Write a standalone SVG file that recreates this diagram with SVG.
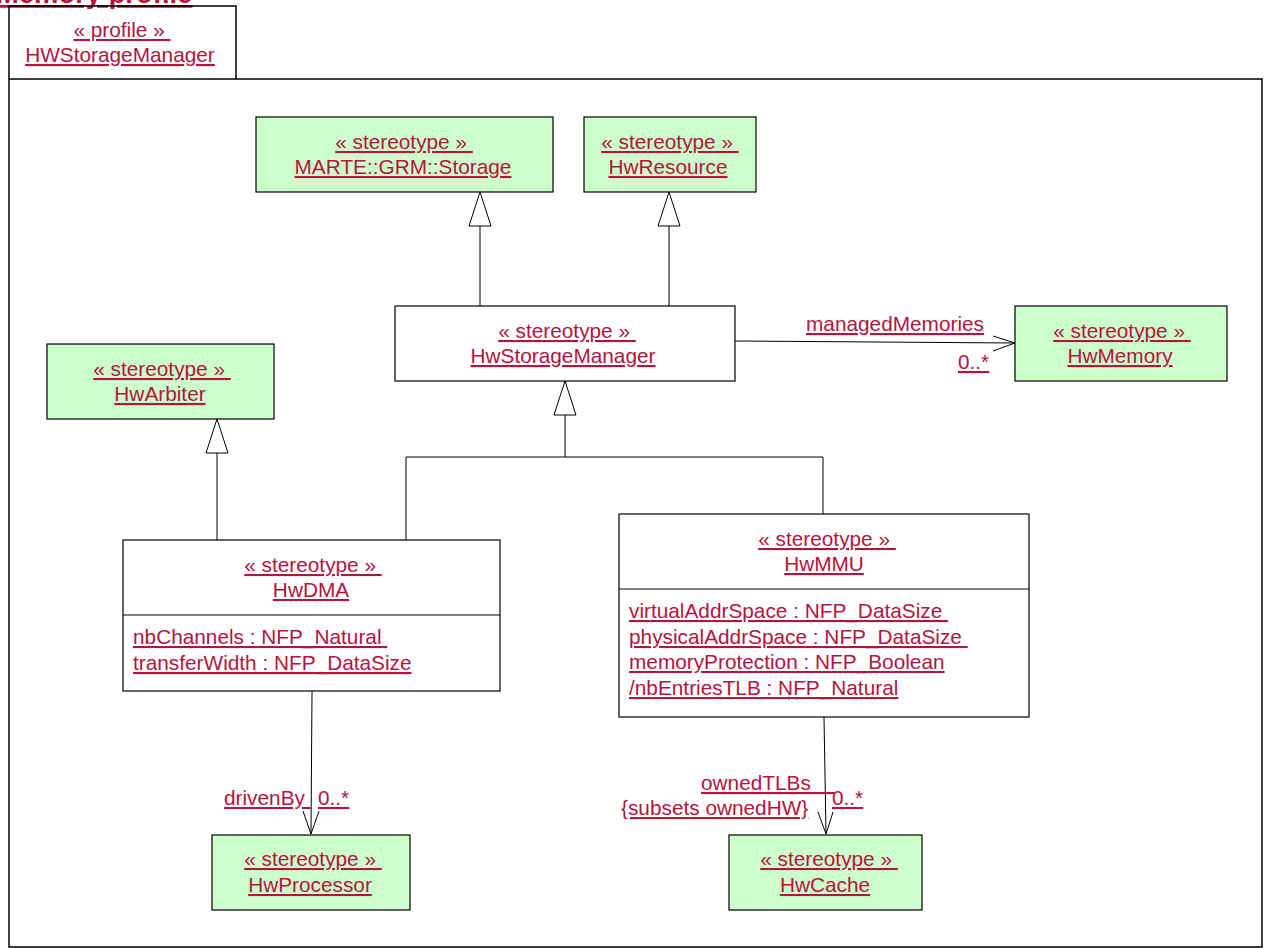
<svg xmlns="http://www.w3.org/2000/svg" width="1265" height="948" viewBox="0 0 1265 948">
<style>
text{font-family:"Liberation Sans",Arial,sans-serif;font-size:20.8px;fill:#B4143C;text-decoration:underline;}
.c{text-anchor:middle;}
.title{font-weight:bold;font-size:27.4px;}
.box{fill:#fff;stroke:#000;stroke-width:1.2;}
.st{fill:#CCFFCC;stroke:#000;stroke-width:1.2;}
.ln{fill:none;stroke:#000;stroke-width:1;}
.tri{fill:#fff;stroke:#000;stroke-width:1;}
.frame{fill:none;stroke:#000;stroke-width:1.5;}
</style>
<rect width="1265" height="948" fill="#fff"/>
<text class="title" x="-4" y="3">Memory profile</text>
<g id="frame">
<path class="frame" d="M9,79 V947 H1262 V79 Z"/>
<path class="frame" d="M9,79 V6 H236 V79"/>
<text class="c" x="122" y="37">« profile »&#160;</text>
<text class="c" x="120" y="62">HWStorageManager</text>
</g>
<g id="connectors">
<path class="ln" d="M480,306 V226"/>
<path class="tri" d="M480,192 L469,226 L491,226 Z"/>
<path class="ln" d="M669,306 V226"/>
<path class="tri" d="M669,192 L658,226 L680,226 Z"/>
<path class="ln" d="M217,540 V453"/>
<path class="tri" d="M217,419 L206,453 L228,453 Z"/>
<path class="ln" d="M406,540 V457 H823 V514 M565,457 V415"/>
<path class="tri" d="M565,381 L554,415 L576,415 Z"/>
<path class="ln" d="M735,341 L1015,343 M993,336 L1015,343 L993,351"/>
<path class="ln" d="M312,691 L311,834 M303,811 L311,834 L319,811"/>
<path class="ln" d="M824,717 L826,834 M818,812 L826,834 L833,812"/>
<text x="806" y="331">managedMemories</text>
<text x="958" y="369">0..*</text>
<text x="224" y="805">drivenBy&#160;</text>
<text x="318" y="805">0..*</text>
<text x="701" y="790">ownedTLBs&#160;&#160;&#160;&#160;</text>
<text x="832" y="805">0..*</text>
<text x="621" y="815">{subsets ownedHW}</text>
</g>
<g id="storage">
<rect class="st" x="256" y="117" width="297" height="75"/>
<text class="c" x="404" y="149">« stereotype »&#160;</text>
<text class="c" x="403" y="174">MARTE::GRM::Storage</text>
</g>
<g id="hwresource">
<rect class="st" x="584" y="117" width="172" height="75"/>
<text class="c" x="670" y="149">« stereotype »&#160;</text>
<text class="c" x="668" y="174">HwResource</text>
</g>
<g id="hwstoragemanager">
<rect class="box" x="395" y="306" width="340" height="75"/>
<text class="c" x="567" y="338">« stereotype »&#160;</text>
<text class="c" x="563" y="363">HwStorageManager</text>
</g>
<g id="hwmemory">
<rect class="st" x="1015" y="306" width="212" height="75"/>
<text class="c" x="1122" y="338">« stereotype »&#160;</text>
<text class="c" x="1120" y="363">HwMemory</text>
</g>
<g id="hwarbiter">
<rect class="st" x="47" y="344" width="227" height="75"/>
<text class="c" x="162" y="376">« stereotype »&#160;</text>
<text class="c" x="160" y="401">HwArbiter</text>
</g>
<g id="hwdma">
<rect class="box" x="123" y="540" width="377" height="151"/>
<path class="ln" d="M123,615 H500"/>
<text class="c" x="313" y="572">« stereotype »&#160;</text>
<text class="c" x="311" y="597">HwDMA</text>
<text x="133" y="644">nbChannels : NFP_Natural&#160;</text>
<text x="133" y="670">transferWidth : NFP_DataSize</text>
</g>
<g id="hwmmu">
<rect class="box" x="619" y="514" width="410" height="203"/>
<path class="ln" d="M619,589 H1029"/>
<text class="c" x="827" y="546">« stereotype »&#160;</text>
<text class="c" x="824" y="571">HwMMU</text>
<text x="629" y="618">virtualAddrSpace : NFP_DataSize&#160;</text>
<text x="629" y="644">physicalAddrSpace : NFP_DataSize&#160;</text>
<text x="629" y="669">memoryProtection : NFP_Boolean</text>
<text x="629" y="695">/nbEntriesTLB : NFP_Natural</text>
</g>
<g id="hwprocessor">
<rect class="st" x="212" y="835" width="198" height="75"/>
<text class="c" x="313" y="866">« stereotype »&#160;</text>
<text class="c" x="310" y="892">HwProcessor</text>
</g>
<g id="hwcache">
<rect class="st" x="729" y="835" width="193" height="75"/>
<text class="c" x="829" y="866">« stereotype »&#160;</text>
<text class="c" x="825" y="892">HwCache</text>
</g>
</svg>
